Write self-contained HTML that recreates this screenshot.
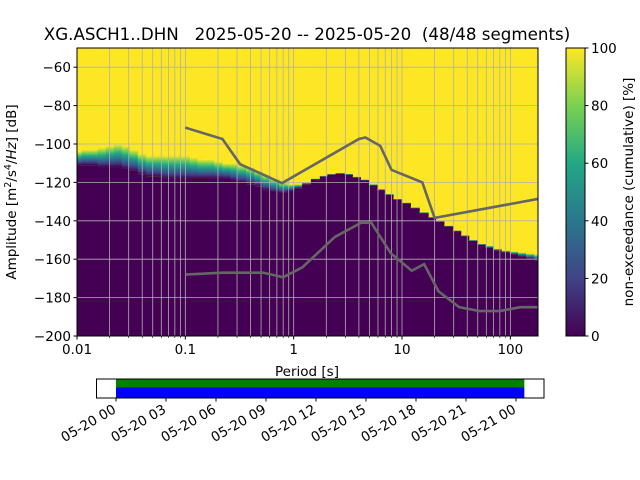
<!DOCTYPE html>
<html><head><meta charset="utf-8">
<style>
html,body{margin:0;padding:0;background:#fff;}
svg{display:block;font-family:"DejaVu Sans","Liberation Sans",sans-serif;}
text{white-space:pre;}
</style></head>
<body>
<svg id="chart" width="640" height="480" viewBox="0 0 640 480" xmlns="http://www.w3.org/2000/svg">
<defs>
<linearGradient id="vir" x1="0" y1="1" x2="0" y2="0">
<stop offset="0" stop-color="#440154"/><stop offset="0.2" stop-color="#414487"/><stop offset="0.4" stop-color="#2a788e"/><stop offset="0.6" stop-color="#22a884"/><stop offset="0.8" stop-color="#7ad151"/><stop offset="1" stop-color="#fde725"/>
</linearGradient>
<clipPath id="plotclip"><rect x="77" y="48" width="461" height="288"/></clipPath>
</defs>
<text x="307" y="40" font-size="16.7" text-anchor="middle">XG.ASCH1..DHN   2025-05-20 -- 2025-05-20  (48/48 segments)</text>
<g id="plot" clip-path="url(#plotclip)"></g>
<g id="grid"></g>
<g id="models" clip-path="url(#plotclip)"></g>
<rect x="77" y="48" width="461" height="288" fill="none" stroke="#000" stroke-width="1"/>
<g id="axes" font-size="13.5"></g>
<text x="307" y="376" font-size="13.5" text-anchor="middle">Period [s]</text>
<text transform="translate(16,192) rotate(-90)" font-size="13.5" text-anchor="middle">Amplitude [m<tspan font-size="9.5" dy="-5">2</tspan><tspan dy="5">/s</tspan><tspan font-size="9.5" dy="-5">4</tspan><tspan dy="5">/</tspan><tspan font-style="italic">Hz</tspan>] [dB]</text>
<rect x="566" y="48" width="19" height="288" fill="url(#vir)" stroke="#000" stroke-width="1"/>
<g id="cbar" font-size="13.5"></g>
<text transform="translate(633,192) rotate(-90)" font-size="13.5" text-anchor="middle">non-exceedance (cumulative) [%]</text>
<g id="timeline"></g>
</svg>
<script>
const periods=[0.010,0.012,0.014,0.017,0.020,0.024,0.028,0.033,0.040,0.047,0.056,0.067,0.08,0.1,0.12,0.14,0.17,0.2,0.24,0.28,0.33,0.4,0.47,0.56,0.67,0.8,0.95,1.1,1.3,1.6,1.9,2.2,2.7,3.2,3.8,4.5,5.4,6.4,7.6,9,11,13,16,19,22,27,32,38,45,54,64,76,90,108,128,152,180];
const purpleTop=[-111,-111,-111,-112,-112,-112,-113,-114,-116,-117,-117,-118,-118,-118,-118,-118,-118,-118,-118,-119,-120,-121,-122,-124,-125,-125.5,-124.5,-123,-121,-118.5,-117,-116,-115.5,-116,-117.5,-119,-121.5,-124,-126.5,-129,-131,-133.5,-136,-138.5,-140.5,-143,-145.5,-148,-150.5,-152.5,-154,-155.5,-156.5,-157.5,-158.5,-159.5,-160.5];
const yellowBottom=[-104,-103,-103,-102,-101,-100,-101,-103,-105,-106,-106,-106,-106,-106,-107,-108,-108,-109,-110,-110,-111,-112,-114,-116,-118,-120,-121,-121,-120,-118,-116.5,-115.5,-115,-115.5,-117,-118.5,-121,-123.5,-126,-128.5,-130.5,-133,-135.5,-138,-140,-142.5,-145,-147.5,-150,-152,-153,-154.5,-155.5,-156,-156.5,-157,-157.5];
const nhnmP=[0.1,0.22,0.32,0.78,4.0,4.6,6.3,8.0,15.4,20,180];
const nhnmV=[-91.5,-97.4,-110.5,-120.4,-97.4,-96.6,-101,-113.5,-120,-138.5,-128.6];
const nlnmP=[0.1,0.22,0.52,0.8,1.2,2.4,4.2,5.2,7.9,12.3,16,21.7,33.7,52,80,123,180];
const nlnmV=[-168,-167,-167,-169.4,-164.3,-148.4,-141,-141,-157,-166,-162.6,-176.7,-185,-187,-187,-185,-185];
const yTicks=[-60,-80,-100,-120,-140,-160,-180,-200];
const xTicks=[0.01,0.1,1,10,100];
const xTickLabels=["0.01","0.1","1","10","100"];
const cbTicks=[0,20,40,60,80,100];
const timeTicks=["05-20 00","05-20 03","05-20 06","05-20 09","05-20 12","05-20 15","05-20 18","05-20 21","05-21 00"];
const segStartH=0, segEndH=24.5;

const NS="http://www.w3.org/2000/svg";
const X0=77,X1=538,Y0=48,Y1=336;
const xmin=-2, xmax=Math.log10(180);
const xs=p=>X0+(Math.log10(p)-xmin)/(xmax-xmin)*(X1-X0);
const ys=v=>Y1-(v-(-200))/150*(Y1-Y0);
function mk(tag,attrs,parent){const e=document.createElementNS(NS,tag);for(const k in attrs)e.setAttribute(k,attrs[k]);parent.appendChild(e);return e;}
const plot=document.getElementById('plot');
const bg=mk('rect',{x:X0,y:Y0,width:X1-X0,height:Y1-Y0,fill:'#fde725'},plot);


for(let i=0;i<periods.length;i++){
  const lp=Math.log10(periods[i]);
  const l=i==0?xmin:(lp+Math.log10(periods[i-1]))/2;
  const r=i==periods.length-1?xmax:(lp+Math.log10(periods[i+1]))/2;
  const xl=X0+(l-xmin)/(xmax-xmin)*(X1-X0), xr=X0+(r-xmin)/(xmax-xmin)*(X1-X0);
  const yb=ys(yellowBottom[i]), yp=ys(purpleTop[i]);
  const g=mk('rect',{x:xl,y:yb,width:xr-xl+0.5,height:Math.max(0,yp-yb),fill:'url(#vir)'},plot);
  
  
  const c=mk('rect',{x:xl,y:yp,width:xr-xl+0.5,height:Y1-yp,fill:'#440154'},plot);
  
  
}
const grid=document.getElementById('grid');
for(let d=-2;d<=2;d++){for(let m=1;m<=9;m++){const p=m*Math.pow(10,d);if(p>180)continue;const x=xs(p);
  const gl=mk('line',{x1:x,x2:x,y1:Y0,y2:Y1,stroke:'#b0b0b0','stroke-width':0.8},grid);
  
  }}
yTicks.forEach(v=>{const y=ys(v);const gl=mk('line',{x1:X0,x2:X1,y1:y,y2:y,stroke:'#b0b0b0','stroke-width':0.8},grid);
  
  });
const models=document.getElementById('models');
function poly(P,V,name){const pts=P.map((p,i)=>xs(p)+','+ys(V[i])).join(' ');
  const e=mk('polyline',{points:pts,fill:'none',stroke:'#666','stroke-width':2.6},models);
  
  }
poly(nhnmP,nhnmV,'nhnm-line');poly(nlnmP,nlnmV,'nlnm-line');
const axes=document.getElementById('axes');
yTicks.forEach(v=>{const y=ys(v);mk('line',{x1:X0-3.5,x2:X0,y1:y,y2:y,stroke:'#000'},axes);
  const t=mk('text',{x:X0-6,y:y+5,'text-anchor':'end'},axes);t.textContent=String(v).replace('-','\u2212');
  
  });
xTicks.forEach((p,i)=>{const x=xs(p);mk('line',{x1:x,x2:x,y1:Y1,y2:Y1+3.5,stroke:'#000'},axes);
  const t=mk('text',{x:x,y:Y1+18,'text-anchor':'middle'},axes);t.textContent=xTickLabels[i];
  
  });
for(let d=-2;d<=2;d++){for(let m=2;m<=9;m++){const p=m*Math.pow(10,d);if(p>180)continue;const x=xs(p);mk('line',{x1:x,x2:x,y1:Y1,y2:Y1+2,stroke:'#000','stroke-width':0.6},axes);}}
const cb=document.getElementById('cbar');
cbTicks.forEach(v=>{const y=Y1-v/100*(Y1-Y0);mk('line',{x1:585,x2:588.5,y1:y,y2:y,stroke:'#000'},cb);
  const t=mk('text',{x:591,y:y+5},cb);t.textContent=v;
  
  });
const tl=document.getElementById('timeline');
const T0=116, hpx=50/3;
const tx=h=>T0+h*hpx;
const fr=mk('rect',{x:96.5,y:379,width:447.5,height:19,fill:'#fff',stroke:'#000'},tl);


const gb=mk('rect',{x:tx(segStartH),y:379.5,width:tx(segEndH)-tx(segStartH),height:8,fill:'#008000'},tl);


const bb=mk('rect',{x:tx(segStartH),y:387.5,width:tx(segEndH)-tx(segStartH),height:10,fill:'#0000ff'},tl);


timeTicks.forEach((s,i)=>{const x=tx(i*3);mk('line',{x1:x,x2:x,y1:398,y2:401.5,stroke:'#000'},tl);
  const t=mk('text',{x:0,y:0,'text-anchor':'end','font-size':'13.5',transform:`translate(${x+1},${412}) rotate(-30)`},tl);t.textContent=s;
  
  });
</script>
</body></html>
